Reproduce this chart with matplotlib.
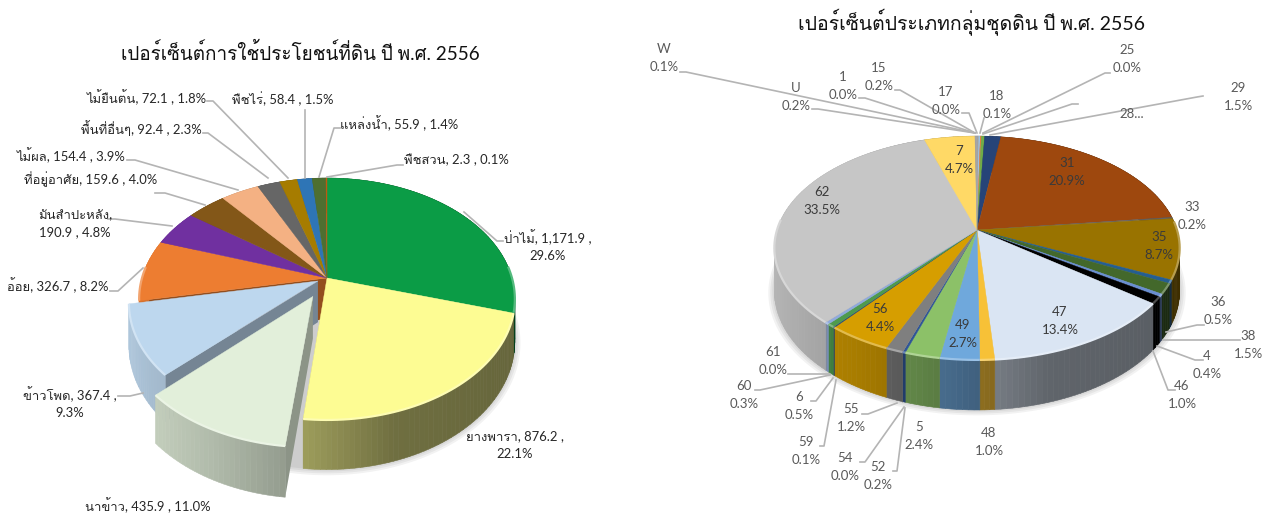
#!/usr/bin/env python3
"""Two perspective 3D pie charts: land use and soil groups, B.E. 2556."""

from __future__ import annotations

import numpy as np
import matplotlib
matplotlib.use("Agg")
import matplotlib.pyplot as plt
from matplotlib import font_manager as fm
from matplotlib.colors import to_rgb
from matplotlib.patches import Polygon

# left chart data
land_names = ["ป่าไม้", "ยางพารา", "นาข้าว", "ข้าวโพด", "อ้อย", "มันสำปะหลัง", "ที่อยู่อาศัย",
              "ไม้ผล", "พื้นที่อื่นๆ", "ไม้ยืนต้น", "พืชไร่", "แหล่งน้ำ", "พืชสวน"]
land_values = [1171.9, 876.2, 435.9, 367.4, 326.7, 190.9, 159.6, 154.4, 92.4, 72.1, 58.4, 55.9, 2.3]
land_pct = [29.6, 22.1, 11.0, 9.3, 8.2, 4.8, 4.0, 3.9, 2.3, 1.8, 1.5, 1.4, 0.1]
land_colors = ["#0b9c46", "#fdfc93", "#e2efda", "#bdd7ee", "#ed7d31", "#7030a0", "#835718",
               "#f4b183", "#666666", "#a67c00", "#2e75b6", "#4e6f30", "#c55a11"]
land_explode = [0, 0, 0.17, 0.055, 0, 0, 0, 0, 0, 0, 0, 0, 0]

# right chart data
soil_names = ["1", "15", "17", "18", "25", "28", "29", "31", "33", "35", "36", "38", "4", "46",
              "47", "48", "49", "5", "52", "54", "55", "56", "59", "6", "60", "61", "62", "7",
              "U", "W"]
soil_pct = [0.0, 0.2, 0.0, 0.1, 0.0, 0.3, 1.5, 20.9, 0.2, 8.7, 0.5, 1.5, 0.4, 1.0,
            13.4, 1.0, 2.7, 2.4, 0.2, 0.0, 1.2, 4.4, 0.1, 0.5, 0.3, 0.0, 33.5, 4.7,
            0.2, 0.1]
soil_colors = ["#a5a5a5", "#9dc3e6", "#a5a5a5", "#ed7d31", "#a5a5a5", "#70ad47", "#264478", "#9e480e",
               "#636363", "#997300", "#255e91", "#43682b", "#698ed0", "#000000",
               "#dae5f3", "#f7c137", "#6fa8dc", "#8cc168", "#2f5597", "#a5a5a5", "#7f7f7f", "#d69e00",
               "#264478", "#4e9a4e", "#8faadc", "#a5a5a5", "#c6c6c6", "#ffd966",
               "#a5a5a5", "#a5a5a5"]

TITLE_LEFT = "เปอร์เซ็นต์การใช้ประโยชน์ที่ดิน ปี พ.ศ. 2556"
TITLE_RIGHT = "เปอร์เซ็นต์ประเภทกลุ่มชุดดิน ปี พ.ศ. 2556"

# label layout, pixels from the top left corner
LAND_LAYOUT = {
    "ป่าไม้": ((548, 246), [(503, 241), (497, 241), (464, 212)], True),
    "ยางพารา": ((515, 445), None, True),
    "นาข้าว": ((148, 505), None, False),
    "ข้าวโพด": ((70, 403), [(118, 396), (130, 396), (143, 393)], True),
    "อ้อย": ((58, 285), [(110, 291), (118, 291), (143, 268)], False),
    "มันสำปะหลัง": ((75, 224), [(108, 219), (115, 219), (172, 226)], True),
    "ที่อยู่อาศัย": ((91, 179), [(155, 193), (165, 193), (205, 205)], False),
    "ไม้ผล": ((71, 155), [(127, 160), (135, 160), (238, 190)], False),
    "พื้นที่อื่นๆ": ((141, 128), [(203, 133), (208, 133), (268, 178)], False),
    "ไม้ยืนต้น": ((147, 97), [(207, 101), (213, 101), (288, 178)], False),
    "พืชไร่": ((283, 99), [(305, 110), (305, 178)], False),
    "แหล่งน้ำ": ((399, 123), [(340, 128), (334, 128), (319, 177)], False),
    "พืชสวน": ((456, 160), [(403, 165), (397, 165), (327, 177)], False),
}

SOIL_LAYOUT = {
    "W": ((664, 58), [(680, 72), (686, 72), (975, 133)]),
    "U": ((796, 97), [(812, 109), (818, 109), (975, 133)]),
    "1": ((843, 86), [(859, 98), (865, 98), (975, 133)]),
    "15": ((879, 77), [(895, 90), (900, 90), (975, 133)]),
    "17": ((946, 101), [(962, 113), (969, 113), (977, 133)]),
    "18": ((997, 105), [(984, 118), (980, 133)]),
    "25": ((1127, 59), [(1110, 73), (1105, 73), (983, 133)]),
    "29": ((1238, 97), [(1203, 96), (1197, 97), (990, 135)]),
    "31": ((1067, 172), None),
    "33": ((1192, 216), None),
    "35": ((1159, 246), None),
    "7": ((959, 160), None),
    "62": ((822, 201), None),
    "47": ((1060, 321), None),
    "49": ((963, 334), None),
    "56": ((880, 318), None),
    "36": ((1218, 311), [(1204, 325), (1197, 325), (1166, 332)]),
    "38": ((1248, 345), [(1240, 340), (1163, 340)]),
    "4": ((1207, 365), [(1203, 360), (1195, 360), (1157, 346)]),
    "46": ((1182, 395), [(1175, 390), (1168, 390), (1153, 351)]),
    "48": ((989, 442), None),
    "5": ((919, 436), None),
    "52": ((878, 476), [(893, 471), (897, 471), (905, 408)]),
    "54": ((845, 467), [(860, 462), (865, 462), (904, 407)]),
    "55": ((851, 418), [(862, 414), (868, 414), (897, 403)]),
    "59": ((806, 451), [(820, 446), (824, 446), (836, 380)]),
    "6": ((799, 406), [(811, 401), (816, 401), (833, 378)]),
    "60": ((744, 395), [(755, 390), (760, 390), (830, 375)]),
    "61": ((773, 361), [(788, 374), (830, 374)]),
}


def shaded(color, factor):
    return tuple(min(1.0, c * factor) for c in to_rgb(color))


def lighter(color, amount):
    return tuple(c + (1 - c) * amount for c in to_rgb(color))


class Pie:
    def __init__(self, cx, cy, a, b, k, depth):
        self.cx, self.cy, self.a, self.b, self.k, self.depth = cx, cy, a, b, k, depth

    def project(self, X, Y):
        w = 1 - self.k * np.asarray(Y)
        return self.cx + self.a * np.asarray(X) / w, self.cy + self.b * np.asarray(Y) / w, self.depth / w

    def disk(self, theta, radius=1.0, off=(0.0, 0.0)):
        return off[0] + radius * np.sin(theta), off[1] - radius * np.cos(theta)


def side_factor(x_disk):
    # light from the left, darker towards the right
    return np.interp(x_disk, [-1, -0.5, -0.1, 0.3, 1], [0.92, 0.78, 0.62, 0.44, 0.4])


def draw_slice(ax, pie, t0, t1, color, off, faces, zbase):
    n = max(2, int(np.degrees(t1 - t0) / 1.5) + 2)
    thetas = np.linspace(t0, t1, n)
    X, Y = pie.disk(thetas, off=off)
    px, py, pd = pie.project(X, Y)
    ax0, ay0, ad0 = pie.project(off[0], off[1])

    for which in faces:
        ex, ey, ed = (px[0], py[0], pd[0]) if which == "start" else (px[-1], py[-1], pd[-1])
        quad = [(ax0, ay0), (ex, ey), (ex, ey + ed), (ax0, ay0 + ad0)]
        ax.add_patch(Polygon(quad, fc=shaded(color, 0.62), ec="none", zorder=zbase))

    for i in range(n - 1):
        f = side_factor(0.5 * (X[i] + X[i + 1]))
        quad = [(px[i], py[i]), (px[i + 1], py[i + 1]),
                (px[i + 1], py[i + 1] + pd[i + 1]), (px[i], py[i] + pd[i])]
        c = shaded(color, f)
        ax.add_patch(Polygon(quad, fc=c, ec=c, lw=0.4, zorder=zbase + 0.1))

    top = [(ax0, ay0)] + list(zip(px, py))
    ax.add_patch(Polygon(top, fc=color, ec=color, lw=0.3, zorder=zbase + 0.2))
    front = Y > -0.1
    if front.any():
        ax.plot(px[front], py[front], color=lighter(color, 0.3), lw=1.6,
                solid_capstyle="butt", zorder=zbase + 0.3)


def draw_shadow(ax, pie):
    t = np.linspace(0, 2 * np.pi, 180)
    X, Y = pie.disk(t)
    px, py, pd = pie.project(X, Y)
    for grow in (1.03, 1.02, 1.01, 1.0):
        sx = pie.cx + (px - pie.cx) * grow
        sy = pie.cy + (py + pd - pie.cy) * grow
        ax.fill(sx, sy, color="#000000", alpha=0.05, lw=0, zorder=0.5)


def draw_pie(ax, pie, pct, colors, explode=None, start_deg=0.0):
    fractions = np.asarray(pct, dtype=float) / np.sum(pct)
    edges = np.radians(start_deg) + 2 * np.pi * np.concatenate([[0], np.cumsum(fractions)])
    explode = explode or [0] * len(pct)
    draw_shadow(ax, pie)

    for i in range(len(pct)):
        if explode[i]:
            continue
        faces = []
        if explode[(i + 1) % len(pct)]:
            faces.append("end")
        if explode[i - 1]:
            faces.append("start")
        draw_slice(ax, pie, edges[i], edges[i + 1], colors[i], (0.0, 0.0), faces, 1)

    order = sorted((i for i in range(len(pct)) if explode[i]), key=lambda j: explode[j])
    for rank, i in enumerate(order):
        mid = 0.5 * (edges[i] + edges[i + 1])
        off = pie.disk(mid, radius=explode[i])
        draw_slice(ax, pie, edges[i], edges[i + 1], colors[i], off, ["start"], 2 + rank)


def leader(ax, pts):
    xs, ys = zip(*pts)
    ax.plot(xs, ys, color="#b4b4b4", lw=1.2, solid_joinstyle="round", zorder=8)


def label_left_chart(ax):
    for name, value, pct in zip(land_names, land_values, land_pct):
        (x, y), line, wrap = LAND_LAYOUT[name]
        sep = "\n" if wrap else " "
        if name == "มันสำปะหลัง":
            text = f"{name},\n{value:,.1f} , {pct:.1f}%"
        else:
            text = f"{name}, {value:,.1f} ,{sep}{pct:.1f}%"
        ax.text(x, y, text, ha="center", va="center", fontsize=9.4, color="#262626",
                linespacing=1.5, zorder=9)
        if line:
            leader(ax, line)


def label_right_chart(ax):
    for name, pct in zip(soil_names, soil_pct):
        if name not in SOIL_LAYOUT:
            continue
        (x, y), line = SOIL_LAYOUT[name]
        inside = name in ("31", "35", "7", "62", "47", "49", "56")
        ax.text(x, y, f"{name}\n{pct:.1f}%", ha="center", va="center", fontsize=9.5,
                color="#3a3a3a" if inside else "#595959", linespacing=1.6, zorder=9)
        if line:
            leader(ax, line)
    # the truncated label of soil group 28
    leader(ax, [(1078, 104), (1072, 104), (983, 134)])
    ax.text(1132, 114, "28...", ha="center", va="center", fontsize=9.5, color="#595959", zorder=9)


def main() -> None:
    installed = {f.name for f in fm.fontManager.ttflist}
    thai = [n for n in ("Umpush", "Loma", "Noto Sans Thai") if n in installed]
    plt.rcParams["font.family"] = ["Lato"] + thai + ["DejaVu Sans"]

    fig = plt.figure(figsize=(12.69, 5.15), dpi=100)
    ax = fig.add_axes([0, 0, 1, 1])
    ax.set_xlim(0, 1269)
    ax.set_ylim(515, 0)
    ax.axis("off")

    left = Pie(327, 278, 185, 117.3, 0.1736, 41)
    right = Pie(977, 230, 200, 109, 0.161, 42)
    draw_pie(ax, left, land_pct, land_colors, land_explode)
    draw_pie(ax, right, soil_pct, soil_colors, start_deg=0.4)

    label_left_chart(ax)
    label_right_chart(ax)
    ax.text(300, 52, TITLE_LEFT, ha="center", va="center", fontsize=13.6, color="#111111")
    ax.text(971, 22, TITLE_RIGHT, ha="center", va="center", fontsize=14, color="#111111")

    fig.savefig("out.png", dpi=100)


if __name__ == "__main__":
    main()
